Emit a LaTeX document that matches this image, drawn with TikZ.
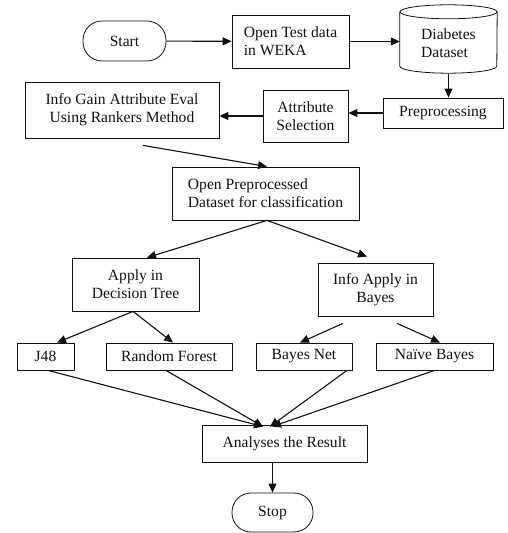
\documentclass[tikz,border=0pt]{standalone}
\usepackage{fontspec}
\setmainfont{Liberation Serif}
\usetikzlibrary{arrows.meta,positioning,calc}
\definecolor{ink}{HTML}{111111}
\tikzset{
 box/.style={draw=ink,line width=.8pt,align=center,text=ink,inner sep=2pt},
 term/.style={box,rounded corners=19pt},
 flow/.style={-{Triangle[length=9pt,width=8pt]},draw=ink,line width=1.1pt}
}

\begin{document}
\begin{tikzpicture}[x=1pt,y=1pt,font=\fontsize{15.6}{18}\selectfont]
  \useasboundingbox (0,0) rectangle (508,533);

  \node[term,minimum width=83pt,minimum height=40pt] (start) at (124.5,492) {Start};
  \node[box,align=left,minimum width=117pt,minimum height=53pt] (weka) at (290.5,491.5) {Open Test data\\in WEKA};
  \node[align=left,text=ink,minimum width=97pt,minimum height=60pt] (data) at (448.5,490) {Diabetes\\Dataset};
  \draw[ink,line width=.8pt] ([yshift=1pt]data.north) ellipse[x radius=48.5pt,y radius=7pt];
  \draw[ink,line width=.8pt] ([yshift=1pt]data.north west) -- ([yshift=7pt]data.south west)
    arc[start angle=180,end angle=360,x radius=48.5pt,y radius=7pt] -- ([yshift=1pt]data.north east);

  \node[box,minimum width=120pt,minimum height=30pt] (prep) at (443,420) {Preprocessing};
  \node[box,minimum width=85pt,minimum height=52pt] (attr) at (305.5,417) {Attribute\\Selection};
  \node[box,minimum width=194pt,minimum height=56pt] (gain) at (122,423) {Info Gain Attribute Eval\\Using Rankers Method};

  \node[box,align=left,minimum width=187pt,minimum height=53pt] (open) at (265.5,339.5) {Open Preprocessed\\Dataset for classification};
  \node[box,minimum width=127pt,minimum height=53pt] (tree) at (135.5,248.5) {Apply in\\Decision Tree};
  \node[box,minimum width=115pt,minimum height=53pt] (bayes) at (375.5,243.5) {Info Apply in\\Bayes};

  \node[box,minimum width=57pt,minimum height=27pt] (j48) at (45.5,176.5) {J48};
  \node[box,minimum width=126pt,minimum height=27pt] (forest) at (169,176.5) {Random Forest};
  \node[box,minimum width=96pt,minimum height=27pt] (net) at (304,176.5) {Bayes Net};
  \node[box,minimum width=117pt,minimum height=27pt] (naive) at (434.5,176.5) {Naïve Bayes};

  \node[box,minimum width=165pt,minimum height=37pt] (result) at (284.5,89.5) {Analyses the Result};
  \node[term,minimum width=81pt,minimum height=39pt] (stop) at (272.5,20.5) {Stop};

  % loose arrow ends
  \coordinate (gainout) at ([xshift=21pt,yshift=-7pt]gain.south);
  \coordinate (bayesl) at ([xshift=-32.5pt,yshift=-7pt]bayes.south);
  \coordinate (bayesr) at ([xshift=21.5pt,yshift=-7pt]bayes.south);

  \draw[flow] (start) -- (weka);
  \draw[flow] (weka.east) -- (weka.east -| data.west);
  \draw[flow] ([yshift=-1pt]data.south) -- (data.south |- prep.north);
  \draw[flow] (prep.west) -- (prep.west -| attr.east);
  \draw[flow] (attr.west) -- (attr.west -| gain.east);
  \draw[flow] (gainout) -- ([xshift=1.5pt]open.north);
  \draw[flow] ([xshift=1.5pt]open.south) -- ([xshift=11.5pt]tree.north);
  \draw[flow] ([xshift=1.5pt]open.south) -- ([xshift=-8.5pt,yshift=6pt]bayes.north);
  \draw[flow] ([xshift=-2.5pt]tree.south) -- ([xshift=11.5pt]j48.north);
  \draw[flow] ([xshift=-2.5pt]tree.south) -- ([xshift=4pt]forest.north);
  \draw[flow] (bayesl) -- ([xshift=-4pt]net.north);
  \draw[flow] (bayesr) -- ([xshift=5.5pt]naive.north);
  \draw[flow] ([xshift=2.5pt]j48.south) -- ([xshift=-21.5pt,yshift=-2pt]result.north);
  \draw[flow] ([xshift=-3pt]forest.south) -- ([xshift=-21.5pt,yshift=-2pt]result.north);
  \draw[flow] ([xshift=43pt]net.south) -- ([xshift=-14.5pt,yshift=-2pt]result.north);
  \draw[flow] (naive.south) -- ([xshift=-12.5pt,yshift=-2pt]result.north);
  \draw[flow] (result.south -| stop.north) -- (stop.north);
\end{tikzpicture}
\end{document}
